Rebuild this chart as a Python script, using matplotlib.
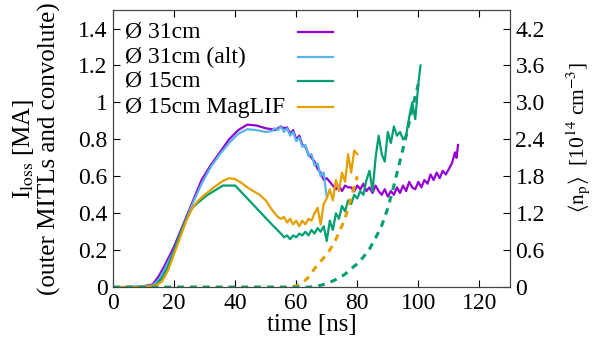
import numpy as np
import matplotlib.pyplot as plt

plt.rcParams['font.family'] = ['Liberation Serif', 'DejaVu Serif']
plt.rcParams['mathtext.fontset'] = 'stix'
plt.rcParams['font.size'] = 17

# I_loss curves [MA]
t_31 = [0, 5, 10, 13, 15, 17, 20, 23, 26, 29, 32, 35, 38, 41, 44, 47, 50, 52, 53, 55, 56, 57, 58,
        59, 60, 61, 62, 63, 64, 65, 66, 67, 68, 69, 70, 71, 72, 73, 74, 75, 76, 77, 78, 79, 80,
        81, 82, 83, 84, 85, 86, 87, 88, 89, 90, 91, 92, 93, 94, 95, 96, 97, 98, 99, 100, 101,
        102, 103, 104, 105, 106, 107, 108, 109, 110, 111, 112, 112.5, 113]
i_31 = [0.0, 0.0, 0.005, 0.015, 0.06, 0.12, 0.22, 0.34, 0.46, 0.58, 0.66, 0.73, 0.80, 0.85, 0.88,
        0.875, 0.86, 0.855, 0.85, 0.87, 0.86, 0.865, 0.83, 0.85, 0.80, 0.82, 0.77, 0.76, 0.72,
        0.70, 0.68, 0.64, 0.62, 0.58, 0.59, 0.57, 0.55, 0.53, 0.55, 0.52, 0.55, 0.54, 0.54, 0.52,
        0.55, 0.53, 0.56, 0.52, 0.54, 0.51, 0.55, 0.52, 0.50, 0.53, 0.49, 0.52, 0.50, 0.54, 0.51,
        0.55, 0.52, 0.57, 0.54, 0.53, 0.57, 0.54, 0.58, 0.56, 0.61, 0.58, 0.62, 0.59, 0.63, 0.61,
        0.64, 0.67, 0.73, 0.70, 0.77]

t_31alt = [0, 10, 13, 15, 17, 20, 23, 26, 29, 32, 35, 38, 41, 44, 47, 50, 52, 53, 54, 55, 56, 57,
           58, 59, 60, 61, 62, 63, 64, 65, 66, 67, 68, 69, 69.5, 70]
i_31alt = [0.0, 0.005, 0.01, 0.04, 0.10, 0.20, 0.33, 0.45, 0.56, 0.65, 0.72, 0.78, 0.83, 0.855,
           0.85, 0.84, 0.845, 0.86, 0.85, 0.87, 0.84, 0.86, 0.82, 0.84, 0.79, 0.81, 0.76, 0.77,
           0.71, 0.72, 0.66, 0.67, 0.60, 0.62, 0.55, 0.49]

t_15 = [0, 10, 14, 16, 18, 20, 22, 24, 26, 28, 31, 34, 36, 40, 44, 48, 52, 55, 56, 57, 58, 59, 60,
        61, 62, 63, 64, 65, 66, 67, 68, 69, 70, 71, 72, 73, 74, 75, 76, 77, 78, 79, 80, 81, 82,
        83, 84, 85, 86, 87, 88, 89, 90, 91, 92, 93, 94, 95, 96, 97, 98, 99, 100, 100.7]
i_15 = [0.0, 0.0, 0.01, 0.05, 0.11, 0.20, 0.29, 0.37, 0.43, 0.46, 0.50, 0.53, 0.55, 0.55, 0.48,
        0.41, 0.34, 0.29, 0.27, 0.28, 0.26, 0.28, 0.27, 0.29, 0.28, 0.30, 0.28, 0.31, 0.29, 0.32,
        0.30, 0.33, 0.25, 0.36, 0.31, 0.40, 0.37, 0.44, 0.41, 0.47, 0.45, 0.50, 0.48, 0.52, 0.50,
        0.58, 0.63, 0.52, 0.70, 0.82, 0.72, 0.68, 0.84, 0.78, 0.87, 0.82, 0.84, 0.80, 0.82, 0.92,
        1.00, 0.91, 1.10, 1.20]

t_mag = [0, 10, 14, 16, 18, 20, 22, 24, 26, 28, 30, 33, 36, 38, 40, 42, 44, 46, 48, 50, 52, 54, 55,
         56, 57, 58, 59, 60, 61, 62, 63, 64, 65, 66, 67, 68, 69, 70, 71, 72, 73, 74, 75, 76, 77,
         78, 79, 80]
i_mag = [0.0, 0.0, 0.01, 0.03, 0.09, 0.18, 0.27, 0.36, 0.43, 0.47, 0.50, 0.54, 0.575, 0.59, 0.585,
         0.565, 0.54, 0.52, 0.50, 0.47, 0.42, 0.38, 0.37, 0.38, 0.35, 0.37, 0.34, 0.36, 0.33,
         0.36, 0.34, 0.37, 0.36, 0.40, 0.43, 0.34, 0.45, 0.48, 0.53, 0.47, 0.58, 0.52, 0.62,
         0.57, 0.72, 0.62, 0.74, 0.72]

# <n_p> curves [1e14 cm^-3]
t_np_15 = [0, 64, 66, 68, 70, 72, 74, 76, 78, 80, 82, 84, 86, 88, 90, 92, 94, 96, 98, 100]
n_np_15 = [0, 0, 0.01, 0.03, 0.06, 0.10, 0.15, 0.21, 0.30, 0.38, 0.49, 0.62, 0.80, 1.0, 1.28,
           1.65, 2.05, 2.45, 2.9, 3.3]
t_np_mag = [0, 58, 60, 62, 64, 66, 68, 70, 72, 74, 76, 78, 80]
n_np_mag = [0, 0, 0.02, 0.07, 0.16, 0.30, 0.42, 0.53, 0.68, 0.88, 1.12, 1.45, 1.8]

labels = ['Ø 31cm', 'Ø 31cm (alt)', 'Ø 15cm', 'Ø 15cm MagLIF']
colors = ['#9400D3', '#56B4E9', '#009E73', '#E69F00']

fig = plt.figure(figsize=(5.95, 3.46), dpi=100)
ax = fig.add_axes([0.19, 0.17, 0.667, 0.801])
ax2 = ax.twinx()

lw = 1.6
ax.plot(t_31, i_31, color=colors[0], lw=lw)
ax.plot(t_31alt, i_31alt, color=colors[1], lw=lw)
ax.plot(t_15, i_15, color=colors[2], lw=lw)
ax.plot(t_mag, i_mag, color=colors[3], lw=lw)

ax2.plot(t_np_mag, n_np_mag, color=colors[3], lw=2.2, dashes=(2.2, 2.0))
ax2.plot(t_np_15, n_np_15, color=colors[2], lw=2.2, dashes=(2.2, 2.0))

# gnuplot-style key: text left, sample line right
key_y = [0.921, 0.830, 0.744, 0.650]
for lab, c, y in zip(labels, colors, key_y):
    ax.text(0.03, y, lab, transform=ax.transAxes, ha='left', va='center', fontsize=17)
    ax.plot([0.466, 0.554], [y, y], color=c, lw=lw, transform=ax.transAxes)

ax.set_xlim(0, 130)
ax.set_ylim(0, 1.5)
ax2.set_ylim(0, 4.5)
ax.set_xticks([0, 20, 40, 60, 80, 100, 120])
ax.set_yticks([0, 0.2, 0.4, 0.6, 0.8, 1.0, 1.2, 1.4])
ax.set_yticklabels(['0', '0.2', '0.4', '0.6', '0.8', '1', '1.2', '1.4'])
ax2.set_yticks([0, 0.6, 1.2, 1.8, 2.4, 3.0, 3.6, 4.2])
ax2.set_yticklabels(['0', '0.6', '1.2', '1.8', '2.4', '3.0', '3.6', '4.2'])

ax.tick_params(direction='in', length=5, top=True, labelsize=17, pad=4)
ax.tick_params(axis='y', right=False)
ax2.tick_params(direction='in', length=5, labelsize=17, pad=4)
for a in (ax, ax2):
    for s in a.spines.values():
        s.set_color('#444444')

ax.set_xlabel('time [ns]', fontsize=18, labelpad=0)
ax.set_ylabel('I$_{\\mathrm{loss}}$ [MA]\n(outer MITLs and convolute)', fontsize=18,
              linespacing=1.15, labelpad=12)
ax2.set_ylabel(r'$\langle\mathrm{n_p}\rangle$  [10$^{14}$ cm$^{-3}$]', fontsize=15.5,
               rotation=90)
ax2.yaxis.set_label_coords(1.137, 0.54)

fig.savefig('out.png', dpi=100)
